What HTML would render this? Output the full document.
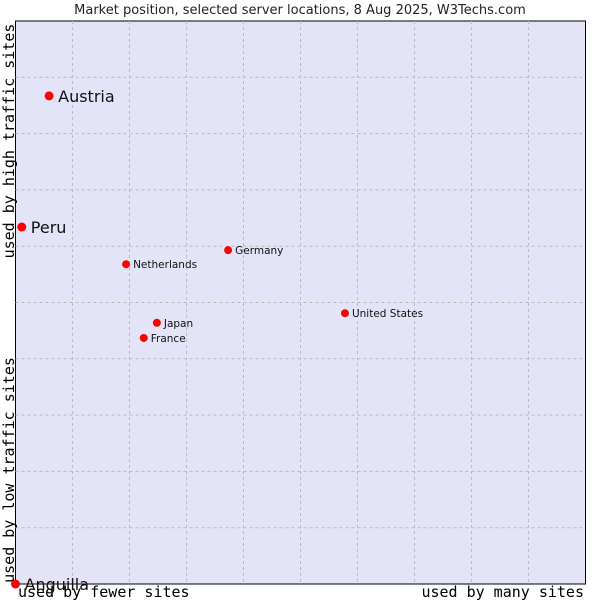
<!DOCTYPE html>
<html><head><meta charset="utf-8"><style>
body{margin:0;background:#fff;width:600px;height:600px;overflow:hidden}
svg{display:block}
</style></head><body>
<svg width="600" height="600" xmlns="http://www.w3.org/2000/svg">
<text x="300" y="14" text-anchor="middle" font-family="DejaVu Sans, Liberation Sans, sans-serif" font-size="13" fill="#222">Market position, selected server locations, 8 Aug 2025, W3Techs.com</text>
<rect x="15.5" y="21" width="570" height="563" fill="#e4e4f8" stroke="#000" stroke-width="1"/>
<g id="grid"></g>
<text transform="translate(14,141) rotate(-90)" text-anchor="middle" font-family="DejaVu Sans Mono, Liberation Mono, monospace" font-size="15" fill="#000">used by high traffic sites</text>
<text transform="translate(14,470) rotate(-90)" text-anchor="middle" font-family="DejaVu Sans Mono, Liberation Mono, monospace" font-size="15" fill="#000">used by low traffic sites</text>
<text x="18" y="597" font-family="DejaVu Sans Mono, Liberation Mono, monospace" font-size="15" fill="#000">used by fewer sites</text>
<text x="584" y="597" text-anchor="end" font-family="DejaVu Sans Mono, Liberation Mono, monospace" font-size="15" fill="#000">used by many sites</text>
<g id="points"></g>
</svg>
<script>
const countries=["Austria","Peru","Netherlands","Germany","Japan","France","United States","Anguilla"];
const xValues=[5.9,1.1,19.4,37.3,24.8,22.5,57.8,0];
const yValues=[86.7,63.4,56.8,59.3,46.4,43.7,48.1,0];
const bigLabel=[true,true,false,false,false,false,false,true];
const NS="http://www.w3.org/2000/svg";
const L=15.5,T=21,W=570,H=563;
function xs(v){return L+v/100*W;}
function ys(v){return T+H-v/100*H;}
const grid=document.getElementById('grid');
for(let i=1;i<10;i++){
  const a=document.createElementNS(NS,'line');
  
  
  a.setAttribute('x1',xs(i*10));a.setAttribute('x2',xs(i*10));a.setAttribute('y1',T);a.setAttribute('y2',T+H);
  a.setAttribute('stroke','#bbb');a.setAttribute('stroke-dasharray','3,3');grid.appendChild(a);
  const b=document.createElementNS(NS,'line');
  
  
  b.setAttribute('y1',ys(i*10));b.setAttribute('y2',ys(i*10));b.setAttribute('x1',L);b.setAttribute('x2',L+W);
  b.setAttribute('stroke','#bbb');b.setAttribute('stroke-dasharray','3,3');grid.appendChild(b);
}
const pts=document.getElementById('points');
countries.forEach((c,i)=>{
  const x=xs(xValues[i]),y=ys(yValues[i]);
  const d=document.createElementNS(NS,'circle');
  
  
  d.setAttribute('cx',x);d.setAttribute('cy',y);d.setAttribute('r',bigLabel[i]?4.5:4);d.setAttribute('fill','#f00');
  pts.appendChild(d);
  const t=document.createElementNS(NS,'text');
  
  
  t.setAttribute('x',x+(bigLabel[i]?9:7));t.setAttribute('y',y+(bigLabel[i]?6:4));
  t.setAttribute('font-family','DejaVu Sans, Liberation Sans, sans-serif');
  t.setAttribute('font-size',bigLabel[i]?16:10.5);t.setAttribute('fill','#111');
  t.textContent=c;pts.appendChild(t);
});
</script>
</body></html>
